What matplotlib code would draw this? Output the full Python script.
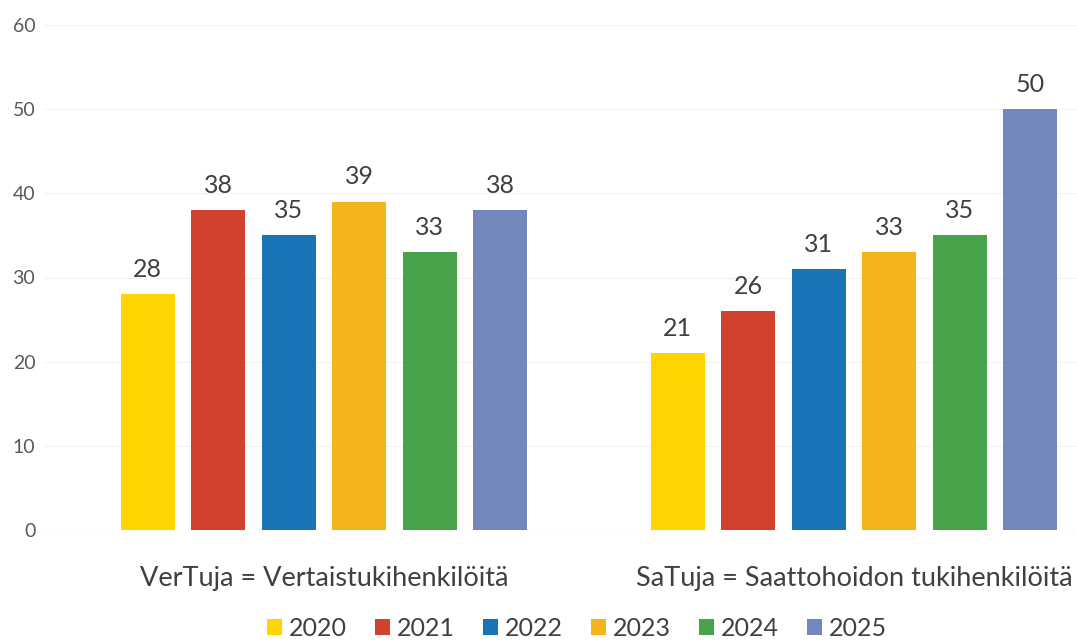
import numpy as np
import matplotlib.pyplot as plt
from matplotlib.patches import Patch

plt.rcParams['font.family'] = ['Lato', 'DejaVu Sans']

categories = ['VerTuja = Vertaistukihenkilöitä', 'SaTuja = Saattohoidon tukihenkilöitä']
years = ['2020', '2021', '2022', '2023', '2024', '2025']
vertuja = [28, 38, 35, 39, 33, 38]
satuja = [21, 26, 31, 33, 35, 50]
colors = ['#FFD400', '#D2412E', '#1874B4', '#F4B41C', '#47A44A', '#7487BD']

values = np.array([vertuja, satuja])  # rows = categories, cols = years

fig = plt.figure(figsize=[10.77, 6.41], dpi=100)
# axes placed so category centres land where the reference has them
ax = fig.add_axes([45/1077, (641-530)/641, 1 - 45/1077, (530-25)/641])

x = np.arange(len(categories))
pitch = 0.133
width = 0.102
for i, yr in enumerate(years):
    pos = x + (i - 2.5) * pitch
    bars = ax.bar(pos, values[:, i], width=width, color=colors[i], zorder=2)
    for b, v in zip(bars, values[:, i]):
        ax.text(b.get_x() + b.get_width()/2, v + 1.6, str(v), ha='center', va='bottom',
                fontsize=18, color='#404040')

ax.set_ylim(0, 60)
ax.set_xlim(-0.526, 1.4208)
ax.set_yticks(np.arange(0, 61, 10))
ax.tick_params(axis='y', length=0, pad=7, labelsize=14, labelcolor='#595959')
ax.set_xticks(x)
ax.set_xticklabels(categories, fontsize=19.5, color='#404040')
ax.tick_params(axis='x', length=0, pad=26)
ax.yaxis.grid(True, color='#F2F2F2', lw=0.8, zorder=0)
for s in ax.spines.values():
    s.set_visible(False)

handles = [Patch(facecolor=c, edgecolor='none') for c in colors]
fig.legend(handles, years, loc='center', bbox_to_anchor=(577/1077, 1 - 628/641), ncol=6,
           frameon=False, fontsize=18, handlelength=0.6, handleheight=0.6,
           handletextpad=0.3, columnspacing=1.1, labelcolor='#404040')

plt.savefig('out.png', dpi=100)
